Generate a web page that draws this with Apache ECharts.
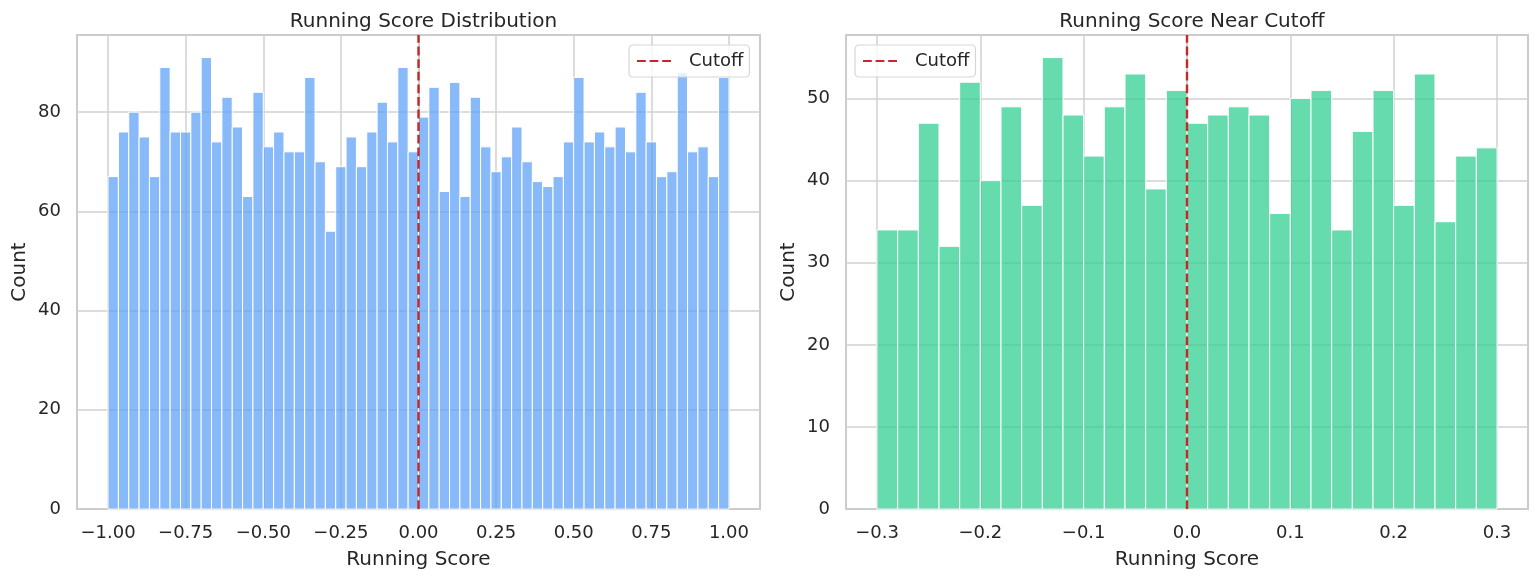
<!DOCTYPE html>
<html>
<head>
<meta charset="utf-8">
<script src="https://cdn.jsdelivr.net/npm/echarts@6/dist/echarts.min.js"></script>
<style>
html, body { margin: 0; padding: 0; background: #fff; }
#main { width: 1540px; height: 580px; }
</style>
</head>
<body>
<div id="main"></div>
<script>
// histogram counts
var fullCounts = [67, 76, 80, 75, 67, 89, 76, 76, 80, 91, 74, 83, 77, 63, 84,
	73, 76, 72, 72, 87, 70, 56, 69, 75, 69, 76, 82, 74, 89, 72,
	79, 85, 64, 86, 63, 83, 73, 68, 71, 77, 70, 66, 65, 67, 74,
	87, 74, 76, 73, 77, 72, 84, 74, 67, 68, 88, 72, 73, 67, 87];
var nearCounts = [34, 34, 47, 32, 52, 40, 49, 37, 55, 48, 43, 49, 53, 39, 51,
	47, 48, 49, 48, 36, 50, 51, 34, 46, 51, 37, 53, 35, 43, 44];
var fullRange = [-1, 1];
var nearRange = [-0.3, 0.3];
var fullTicksX = [-1, -0.75, -0.5, -0.25, 0, 0.25, 0.5, 0.75, 1];
var nearTicksX = [-0.3, -0.2, -0.1, 0, 0.1, 0.2, 0.3];
var fullTicksY = [0, 20, 40, 60, 80];
var nearTicksY = [0, 10, 20, 30, 40, 50];
var cutoff = 0;

var txt = '#262626';
var font = 'DejaVu Sans';

function bins(counts, range) {
	var w = (range[1] - range[0]) / counts.length;
	var out = [];
	for (var i = 0; i < counts.length; i++) {
		out.push([range[0] + i * w, range[0] + (i + 1) * w, counts[i]]);
	}
	return out;
}

function histRender(fill) {
	return function (params, api) {
		var a = api.coord([api.value(0), api.value(2)]);
		var b = api.coord([api.value(1), 0]);
		return {
			type: 'rect',
			shape: { x: a[0], y: a[1], width: b[0] - a[0], height: b[1] - a[1] },
			style: { fill: fill, stroke: '#ffffff', lineWidth: 1 }
		};
	};
}

function minus(s) { return s.replace('-', '\u2212'); }

function xAxis(idx, lo, hi, ticks, dec) {
	return {
		type: 'value', gridIndex: idx, min: lo, max: hi,
		name: 'Running Score', nameLocation: 'middle', nameGap: 41,
		nameTextStyle: { color: txt, fontSize: 20, fontFamily: font },
		axisLine: { show: true, lineStyle: { color: '#cccccc', width: 2 } },
		axisTick: { show: false, customValues: ticks },
		axisLabel: {
			customValues: ticks, color: txt, fontSize: 18, fontFamily: font, margin: 15,
			formatter: function (v) { return minus(v.toFixed(dec)); }
		},
		splitLine: { show: true, lineStyle: { color: '#d0d0d0', width: 1.5 } }
	};
}

function yAxis(idx, hi, ticks) {
	return {
		type: 'value', gridIndex: idx, min: 0, max: hi,
		name: 'Count', nameLocation: 'middle', nameGap: 47,
		nameTextStyle: { color: txt, fontSize: 20, fontFamily: font },
		axisLine: { show: true, lineStyle: { color: '#cccccc', width: 2 } },
		axisTick: { show: false, customValues: ticks },
		axisLabel: { customValues: ticks, color: txt, fontSize: 18, fontFamily: font, margin: 16 },
		splitLine: { show: true, lineStyle: { color: '#d0d0d0', width: 1.5 } }
	};
}

function legend(idx, left) {
	return {
		left: left, top: 45, orient: 'vertical',
		data: [{ name: 'Cutoff' + (idx ? ' ' : '') }],
		formatter: function () { return 'Cutoff'; },
		itemWidth: 37, itemHeight: 14,
		padding: [7, 6, 7, 7],
		backgroundColor: 'rgba(255,255,255,0.8)',
		borderColor: '#d6d6d6', borderWidth: 1.2, borderRadius: 4,
		itemStyle: { color: 'transparent', borderWidth: 0, opacity: 0 },
		textStyle: { color: txt, fontSize: 18, fontFamily: font, padding: [0, 0, 0, 10] }
	};
}

var fullMax = 95.55;
var nearMax = 57.75;

var myChart = echarts.init(document.getElementById('main'));
var option = {
	animation: false,
	backgroundColor: '#ffffff',
	title: [{
		text: 'Running Score Distribution', left: 418.5, top: 7, textAlign: 'center',
		textStyle: { color: txt, fontSize: 20, fontWeight: 'normal', fontFamily: font }
	}, {
		text: 'Running Score Near Cutoff', left: 1187, top: 7, textAlign: 'center',
		textStyle: { color: txt, fontSize: 20, fontWeight: 'normal', fontFamily: font }
	}],
	legend: [legend(0, 629), legend(1, 855)],
	grid: [
		{ left: 77, top: 35, width: 683, height: 474, show: true, borderColor: '#cccccc', borderWidth: 2 },
		{ left: 846, top: 35, width: 682, height: 474, show: true, borderColor: '#cccccc', borderWidth: 2 }
	],
	xAxis: [xAxis(0, -1.1, 1.1, fullTicksX, 2), xAxis(1, -0.33, 0.33, nearTicksX, 1)],
	yAxis: [yAxis(0, fullMax, fullTicksY), yAxis(1, nearMax, nearTicksY)],
	series: [{
		type: 'custom', xAxisIndex: 0, yAxisIndex: 0,
		renderItem: histRender('rgba(96,162,247,0.75)'),
		encode: { x: [0, 1], y: 2 },
		data: bins(fullCounts, fullRange)
	}, {
		type: 'custom', xAxisIndex: 1, yAxisIndex: 1,
		renderItem: histRender('rgba(51,208,147,0.75)'),
		encode: { x: [0, 1], y: 2 },
		data: bins(nearCounts, nearRange)
	}, {
		name: 'Cutoff', type: 'line', xAxisIndex: 0, yAxisIndex: 0,
		symbol: 'none', z: 5,
		lineStyle: { color: '#c62828', width: 2.4, type: [8.8, 3.8] },
		itemStyle: { color: '#c62828' },
		data: [[cutoff, 0], [cutoff, fullMax]]
	}, {
		name: 'Cutoff ', type: 'line', xAxisIndex: 1, yAxisIndex: 1,
		symbol: 'none', z: 5,
		lineStyle: { color: '#c62828', width: 2.4, type: [8.8, 3.8] },
		itemStyle: { color: '#c62828' },
		data: [[cutoff, 0], [cutoff, nearMax]]
	}]
};
myChart.setOption(option);
</script>
</body>
</html>
